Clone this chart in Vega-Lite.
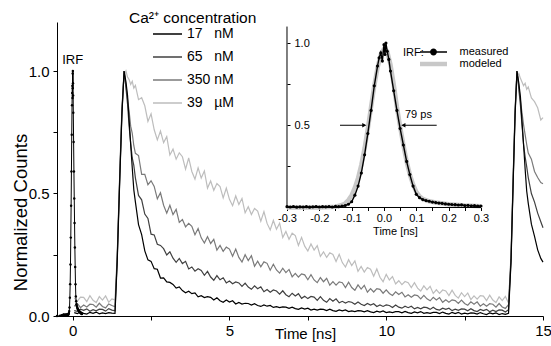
{
 "$schema": "https://vega.github.io/schema/vega-lite/v6.json",
 "width": 486, "height": 294,
 "autosize": {"type": "none"},
 "padding": {"left": 57, "top": 22, "right": 8, "bottom": 30},
 "background": "white",
 "title": {"text": "Ca²⁺ concentration", "anchor": "start", "frame": "group", "orient": "top", "offset": 0, "dx": 72, "dy": 8, "fontSize": 15.5, "fontWeight": "normal", "color": "black", "font": "Liberation Sans"},
 "config": {"font": "Liberation Sans", "view": {"stroke": null},
   "axis": {"grid": false, "domainColor": "black", "tickColor": "black", "labelColor": "black", "titleColor": "black", "titleFontWeight": "normal", "labelFlush": false, "labelOverlap": false, "labelBound": false},
   "legend": {"titleFontWeight": "normal", "titleColor": "black", "labelColor": "black", "padding": 0}},
 "datasets": {
  "decay": [
   {"t":0.05,"nM17":0.014,"nM65":0.022,"nM350":0.040,"uM39":0.073},
   {"t":0.15,"nM17":0.010,"nM65":0.019,"nM350":0.051,"uM39":0.061},
   {"t":0.25,"nM17":0.016,"nM65":0.028,"nM350":0.034,"uM39":0.077},
   {"t":0.35,"nM17":0.011,"nM65":0.023,"nM350":0.045,"uM39":0.076},
   {"t":0.45,"nM17":0.008,"nM65":0.029,"nM350":0.037,"uM39":0.059},
   {"t":0.55,"nM17":0.015,"nM65":0.019,"nM350":0.048,"uM39":0.083},
   {"t":0.65,"nM17":0.011,"nM65":0.026,"nM350":0.047,"uM39":0.064},
   {"t":0.75,"nM17":0.016,"nM65":0.021,"nM350":0.036,"uM39":0.055},
   {"t":0.85,"nM17":0.009,"nM65":0.028,"nM350":0.052,"uM39":0.079},
   {"t":0.95,"nM17":0.013,"nM65":0.027,"nM350":0.039,"uM39":0.065},
   {"t":1.05,"nM17":0.010,"nM65":0.020,"nM350":0.033,"uM39":0.082},
   {"t":1.15,"nM17":0.014,"nM65":0.030,"nM350":0.049,"uM39":0.056},
   {"t":1.25,"nM17":0.012,"nM65":0.024,"nM350":0.043,"uM39":0.070},
   {"t":1.35,"nM17":0.011,"nM65":0.021,"nM350":0.038,"uM39":0.066},
   {"t":1.42,"nM17":0.22,"nM65":0.23,"nM350":0.24,"uM39":0.25},
   {"t":1.50,"nM17":0.55,"nM65":0.56,"nM350":0.57,"uM39":0.58},
   {"t":1.57,"nM17":0.82,"nM65":0.83,"nM350":0.84,"uM39":0.85},
   {"t":1.64,"nM17":1.0,"nM65":1.0,"nM350":1.0,"uM39":0.98},
   {"t":1.70,"nM17":0.955,"nM65":0.93,"nM350":0.94,"uM39":1.0},
   {"t":1.75,"nM17":0.90,"nM65":0.865,"nM350":0.885,"uM39":0.975},
   {"t":1.80,"nM17":0.80,"nM65":0.775,"nM350":0.835,"uM39":0.965},
   {"t":1.85,"nM17":0.70,"nM65":0.705,"nM350":0.775,"uM39":0.945},
   {"t":1.90,"nM17":0.605,"nM65":0.645,"nM350":0.745,"uM39":0.958},
   {"t":1.95,"nM17":0.515,"nM65":0.615,"nM350":0.695,"uM39":0.93},
   {"t":2.0,"nM17":0.466,"nM65":0.564,"nM350":0.664,"uM39":0.941},
   {"t":2.1,"nM17":0.373,"nM65":0.492,"nM350":0.655,"uM39":0.883},
   {"t":2.2,"nM17":0.332,"nM65":0.474,"nM350":0.578,"uM39":0.891},
   {"t":2.3,"nM17":0.266,"nM65":0.416,"nM350":0.578,"uM39":0.858},
   {"t":2.4,"nM17":0.229,"nM65":0.398,"nM350":0.536,"uM39":0.794},
   {"t":2.5,"nM17":0.223,"nM65":0.334,"nM350":0.552,"uM39":0.825},
   {"t":2.6,"nM17":0.193,"nM65":0.331,"nM350":0.529,"uM39":0.760},
   {"t":2.7,"nM17":0.191,"nM65":0.293,"nM350":0.478,"uM39":0.719},
   {"t":2.8,"nM17":0.155,"nM65":0.288,"nM350":0.503,"uM39":0.755},
   {"t":2.9,"nM17":0.156,"nM65":0.275,"nM350":0.452,"uM39":0.708},
   {"t":3.0,"nM17":0.139,"nM65":0.249,"nM350":0.420,"uM39":0.732},
   {"t":3.1,"nM17":0.137,"nM65":0.262,"nM350":0.452,"uM39":0.657},
   {"t":3.2,"nM17":0.129,"nM65":0.236,"nM350":0.414,"uM39":0.681},
   {"t":3.3,"nM17":0.114,"nM65":0.219,"nM350":0.435,"uM39":0.640},
   {"t":3.4,"nM17":0.119,"nM65":0.235,"nM350":0.382,"uM39":0.666},
   {"t":3.5,"nM17":0.104,"nM65":0.214,"nM350":0.394,"uM39":0.650},
   {"t":3.6,"nM17":0.095,"nM65":0.223,"nM350":0.364,"uM39":0.599},
   {"t":3.7,"nM17":0.101,"nM65":0.192,"nM350":0.378,"uM39":0.645},
   {"t":3.8,"nM17":0.091,"nM65":0.200,"nM350":0.366,"uM39":0.590},
   {"t":3.9,"nM17":0.094,"nM65":0.183,"nM350":0.332,"uM39":0.559},
   {"t":4.0,"nM17":0.078,"nM65":0.193,"nM350":0.357,"uM39":0.605},
   {"t":4.1,"nM17":0.083,"nM65":0.186,"nM350":0.319,"uM39":0.563},
   {"t":4.2,"nM17":0.075,"nM65":0.166,"nM350":0.298,"uM39":0.592},
   {"t":4.3,"nM17":0.079,"nM65":0.182,"nM350":0.324,"uM39":0.522},
   {"t":4.4,"nM17":0.076,"nM65":0.159,"nM350":0.296,"uM39":0.551},
   {"t":4.5,"nM17":0.065,"nM65":0.146,"nM350":0.313,"uM39":0.513},
   {"t":4.6,"nM17":0.074,"nM65":0.165,"nM350":0.269,"uM39":0.541},
   {"t":4.7,"nM17":0.062,"nM65":0.148,"nM350":0.288,"uM39":0.528},
   {"t":4.8,"nM17":0.056,"nM65":0.156,"nM350":0.264,"uM39":0.482},
   {"t":4.9,"nM17":0.065,"nM65":0.135,"nM350":0.281,"uM39":0.522},
   {"t":5.0,"nM17":0.057,"nM65":0.143,"nM350":0.273,"uM39":0.476},
   {"t":5.1,"nM17":0.062,"nM65":0.132,"nM350":0.244,"uM39":0.450},
   {"t":5.2,"nM17":0.049,"nM65":0.139,"nM350":0.273,"uM39":0.490},
   {"t":5.3,"nM17":0.055,"nM65":0.135,"nM350":0.239,"uM39":0.455},
   {"t":5.4,"nM17":0.049,"nM65":0.121,"nM350":0.220,"uM39":0.480},
   {"t":5.5,"nM17":0.052,"nM65":0.134,"nM350":0.250,"uM39":0.421},
   {"t":5.6,"nM17":0.051,"nM65":0.118,"nM350":0.226,"uM39":0.446},
   {"t":5.7,"nM17":0.045,"nM65":0.109,"nM350":0.246,"uM39":0.414},
   {"t":5.8,"nM17":0.050,"nM65":0.123,"nM350":0.203,"uM39":0.439},
   {"t":5.9,"nM17":0.043,"nM65":0.111,"nM350":0.224,"uM39":0.428},
   {"t":6.0,"nM17":0.039,"nM65":0.119,"nM350":0.201,"uM39":0.387},
   {"t":6.1,"nM17":0.045,"nM65":0.099,"nM350":0.221,"uM39":0.426},
   {"t":6.2,"nM17":0.040,"nM65":0.108,"nM350":0.215,"uM39":0.378},
   {"t":6.3,"nM17":0.043,"nM65":0.097,"nM350":0.187,"uM39":0.351},
   {"t":6.4,"nM17":0.035,"nM65":0.106,"nM350":0.211,"uM39":0.390},
   {"t":6.5,"nM17":0.038,"nM65":0.102,"nM350":0.188,"uM39":0.354},
   {"t":6.6,"nM17":0.034,"nM65":0.089,"nM350":0.175,"uM39":0.379},
   {"t":6.7,"nM17":0.037,"nM65":0.103,"nM350":0.195,"uM39":0.320},
   {"t":6.8,"nM17":0.036,"nM65":0.087,"nM350":0.177,"uM39":0.345},
   {"t":6.9,"nM17":0.031,"nM65":0.079,"nM350":0.190,"uM39":0.313},
   {"t":7.0,"nM17":0.036,"nM65":0.093,"nM350":0.160,"uM39":0.338},
   {"t":7.1,"nM17":0.030,"nM65":0.082,"nM350":0.174,"uM39":0.328},
   {"t":7.2,"nM17":0.027,"nM65":0.091,"nM350":0.159,"uM39":0.288},
   {"t":7.3,"nM17":0.033,"nM65":0.072,"nM350":0.172,"uM39":0.321},
   {"t":7.4,"nM17":0.028,"nM65":0.081,"nM350":0.168,"uM39":0.285},
   {"t":7.5,"nM17":0.032,"nM65":0.071,"nM350":0.148,"uM39":0.265},
   {"t":7.6,"nM17":0.024,"nM65":0.080,"nM350":0.169,"uM39":0.294},
   {"t":7.7,"nM17":0.028,"nM65":0.077,"nM350":0.147,"uM39":0.269},
   {"t":7.8,"nM17":0.024,"nM65":0.064,"nM350":0.136,"uM39":0.287},
   {"t":7.9,"nM17":0.028,"nM65":0.079,"nM350":0.157,"uM39":0.243},
   {"t":8.0,"nM17":0.027,"nM65":0.064,"nM350":0.140,"uM39":0.262},
   {"t":8.1,"nM17":0.022,"nM65":0.056,"nM350":0.154,"uM39":0.239},
   {"t":8.2,"nM17":0.028,"nM65":0.071,"nM350":0.126,"uM39":0.258},
   {"t":8.3,"nM17":0.022,"nM65":0.060,"nM350":0.140,"uM39":0.251},
   {"t":8.4,"nM17":0.019,"nM65":0.070,"nM350":0.126,"uM39":0.222},
   {"t":8.5,"nM17":0.025,"nM65":0.054,"nM350":0.139,"uM39":0.252},
   {"t":8.6,"nM17":0.021,"nM65":0.060,"nM350":0.136,"uM39":0.218},
   {"t":8.7,"nM17":0.025,"nM65":0.053,"nM350":0.116,"uM39":0.200},
   {"t":8.8,"nM17":0.018,"nM65":0.059,"nM350":0.138,"uM39":0.230},
   {"t":8.9,"nM17":0.021,"nM65":0.056,"nM350":0.116,"uM39":0.206},
   {"t":9.0,"nM17":0.018,"nM65":0.048,"nM350":0.105,"uM39":0.225},
   {"t":9.1,"nM17":0.022,"nM65":0.057,"nM350":0.127,"uM39":0.182},
   {"t":9.2,"nM17":0.021,"nM65":0.048,"nM350":0.110,"uM39":0.202},
   {"t":9.3,"nM17":0.017,"nM65":0.043,"nM350":0.125,"uM39":0.179},
   {"t":9.4,"nM17":0.022,"nM65":0.051,"nM350":0.097,"uM39":0.198},
   {"t":9.5,"nM17":0.017,"nM65":0.045,"nM350":0.112,"uM39":0.191},
   {"t":9.6,"nM17":0.014,"nM65":0.050,"nM350":0.098,"uM39":0.162},
   {"t":9.7,"nM17":0.020,"nM65":0.039,"nM350":0.112,"uM39":0.192},
   {"t":9.8,"nM17":0.016,"nM65":0.045,"nM350":0.109,"uM39":0.158},
   {"t":9.9,"nM17":0.021,"nM65":0.039,"nM350":0.093,"uM39":0.140},
   {"t":10.0,"nM17":0.014,"nM65":0.045,"nM350":0.107,"uM39":0.170},
   {"t":10.1,"nM17":0.017,"nM65":0.043,"nM350":0.092,"uM39":0.147},
   {"t":10.2,"nM17":0.014,"nM65":0.035,"nM350":0.084,"uM39":0.161},
   {"t":10.3,"nM17":0.018,"nM65":0.045,"nM350":0.099,"uM39":0.131},
   {"t":10.4,"nM17":0.018,"nM65":0.036,"nM350":0.088,"uM39":0.144},
   {"t":10.5,"nM17":0.013,"nM65":0.032,"nM350":0.097,"uM39":0.128},
   {"t":10.6,"nM17":0.019,"nM65":0.040,"nM350":0.078,"uM39":0.141},
   {"t":10.7,"nM17":0.014,"nM65":0.034,"nM350":0.087,"uM39":0.136},
   {"t":10.8,"nM17":0.011,"nM65":0.040,"nM350":0.077,"uM39":0.116},
   {"t":10.9,"nM17":0.017,"nM65":0.029,"nM350":0.086,"uM39":0.136},
   {"t":11.0,"nM17":0.013,"nM65":0.035,"nM350":0.083,"uM39":0.114},
   {"t":11.1,"nM17":0.018,"nM65":0.029,"nM350":0.070,"uM39":0.102},
   {"t":11.2,"nM17":0.011,"nM65":0.036,"nM350":0.084,"uM39":0.123},
   {"t":11.3,"nM17":0.014,"nM65":0.034,"nM350":0.070,"uM39":0.107},
   {"t":11.4,"nM17":0.011,"nM65":0.027,"nM350":0.062,"uM39":0.121},
   {"t":11.5,"nM17":0.015,"nM65":0.036,"nM350":0.076,"uM39":0.092},
   {"t":11.6,"nM17":0.015,"nM65":0.027,"nM350":0.065,"uM39":0.107},
   {"t":11.7,"nM17":0.010,"nM65":0.024,"nM350":0.075,"uM39":0.092},
   {"t":11.8,"nM17":0.016,"nM65":0.032,"nM350":0.056,"uM39":0.106},
   {"t":11.9,"nM17":0.011,"nM65":0.027,"nM350":0.066,"uM39":0.102},
   {"t":12.0,"nM17":0.008,"nM65":0.032,"nM350":0.056,"uM39":0.083},
   {"t":12.1,"nM17":0.015,"nM65":0.022,"nM350":0.066,"uM39":0.105},
   {"t":12.2,"nM17":0.010,"nM65":0.028,"nM350":0.063,"uM39":0.084},
   {"t":12.3,"nM17":0.015,"nM65":0.023,"nM350":0.051,"uM39":0.073},
   {"t":12.4,"nM17":0.008,"nM65":0.029,"nM350":0.065,"uM39":0.095},
   {"t":12.5,"nM17":0.012,"nM65":0.028,"nM350":0.051,"uM39":0.079},
   {"t":12.6,"nM17":0.009,"nM65":0.021,"nM350":0.044,"uM39":0.094},
   {"t":12.7,"nM17":0.013,"nM65":0.030,"nM350":0.058,"uM39":0.067},
   {"t":12.8,"nM17":0.012,"nM65":0.022,"nM350":0.048,"uM39":0.082},
   {"t":12.9,"nM17":0.008,"nM65":0.018,"nM350":0.058,"uM39":0.069},
   {"t":13.0,"nM17":0.014,"nM65":0.027,"nM350":0.040,"uM39":0.083},
   {"t":13.1,"nM17":0.009,"nM65":0.022,"nM350":0.050,"uM39":0.081},
   {"t":13.2,"nM17":0.006,"nM65":0.027,"nM350":0.040,"uM39":0.063},
   {"t":13.3,"nM17":0.013,"nM65":0.017,"nM350":0.050,"uM39":0.085},
   {"t":13.4,"nM17":0.009,"nM65":0.024,"nM350":0.048,"uM39":0.065},
   {"t":13.5,"nM17":0.013,"nM65":0.018,"nM350":0.036,"uM39":0.055},
   {"t":13.6,"nM17":0.006,"nM65":0.025,"nM350":0.051,"uM39":0.078},
   {"t":13.7,"nM17":0.010,"nM65":0.024,"nM350":0.037,"uM39":0.063},
   {"t":13.8,"nM17":0.007,"nM65":0.016,"nM350":0.031,"uM39":0.080},
   {"t":13.9,"nM17":0.011,"nM65":0.026,"nM350":0.046,"uM39":0.053},
   {"t":13.98,"nM17":0.22,"nM65":0.23,"nM350":0.24,"uM39":0.25},
   {"t":14.05,"nM17":0.55,"nM65":0.56,"nM350":0.57,"uM39":0.58},
   {"t":14.11,"nM17":0.82,"nM65":0.83,"nM350":0.84,"uM39":0.85},
   {"t":14.17,"nM17":1.0,"nM65":1.0,"nM350":1.0,"uM39":0.98},
   {"t":14.23,"nM17":0.95,"nM65":0.925,"nM350":0.935,"uM39":0.99},
   {"t":14.28,"nM17":0.895,"nM65":0.86,"nM350":0.88,"uM39":0.97},
   {"t":14.33,"nM17":0.795,"nM65":0.78,"nM350":0.83,"uM39":0.955},
   {"t":14.38,"nM17":0.70,"nM65":0.70,"nM350":0.78,"uM39":0.94},
   {"t":14.43,"nM17":0.60,"nM65":0.65,"nM350":0.74,"uM39":0.95},
   {"t":14.48,"nM17":0.51,"nM65":0.61,"nM350":0.70,"uM39":0.925},
   {"t":14.53,"nM17":0.46,"nM65":0.565,"nM350":0.665,"uM39":0.935},
   {"t":14.63,"nM17":0.375,"nM65":0.50,"nM350":0.64,"uM39":0.89},
   {"t":14.73,"nM17":0.325,"nM65":0.465,"nM350":0.59,"uM39":0.875},
   {"t":14.83,"nM17":0.27,"nM65":0.42,"nM350":0.565,"uM39":0.85},
   {"t":14.93,"nM17":0.235,"nM65":0.385,"nM350":0.545,"uM39":0.80},
   {"t":15.0,"nM17":0.22,"nM65":0.36,"nM350":0.54,"uM39":0.81}
  ],
  "irf": [
   {"t":-0.5,"v":0},{"t":-0.4,"v":0.001},{"t":-0.35,"v":0.003},
   {"t":-0.30,"v":0.005},{"t":-0.29,"v":0.003},{"t":-0.28,"v":0.006},{"t":-0.27,"v":0.002},{"t":-0.26,"v":0.004},
   {"t":-0.25,"v":0.003},{"t":-0.24,"v":0.005},{"t":-0.23,"v":0.002},{"t":-0.22,"v":0.004},{"t":-0.21,"v":0.006},
   {"t":-0.20,"v":0.003},{"t":-0.19,"v":0.005},{"t":-0.18,"v":0.004},{"t":-0.17,"v":0.006},{"t":-0.16,"v":0.003},
   {"t":-0.15,"v":0.007},{"t":-0.14,"v":0.005},{"t":-0.13,"v":0.008},{"t":-0.12,"v":0.012},{"t":-0.11,"v":0.02},
   {"t":-0.10,"v":0.035},{"t":-0.09,"v":0.075},{"t":-0.08,"v":0.13},{"t":-0.07,"v":0.21},{"t":-0.06,"v":0.32},
   {"t":-0.05,"v":0.45},{"t":-0.04,"v":0.59},{"t":-0.03,"v":0.74},{"t":-0.02,"v":0.86},{"t":-0.015,"v":0.91},
   {"t":-0.01,"v":0.94},{"t":-0.005,"v":0.89},{"t":0.0,"v":0.99},{"t":0.003,"v":0.93},{"t":0.006,"v":1.0},
   {"t":0.01,"v":0.95},{"t":0.015,"v":0.90},{"t":0.02,"v":0.83},{"t":0.03,"v":0.71},{"t":0.04,"v":0.59},
   {"t":0.05,"v":0.48},{"t":0.06,"v":0.38},{"t":0.07,"v":0.28},{"t":0.08,"v":0.20},{"t":0.09,"v":0.13},
   {"t":0.10,"v":0.08},{"t":0.11,"v":0.06},{"t":0.12,"v":0.048},{"t":0.13,"v":0.042},{"t":0.14,"v":0.038},
   {"t":0.15,"v":0.033},{"t":0.16,"v":0.030},{"t":0.17,"v":0.027},{"t":0.18,"v":0.025},{"t":0.19,"v":0.022},
   {"t":0.20,"v":0.02},{"t":0.21,"v":0.018},{"t":0.22,"v":0.017},{"t":0.23,"v":0.015},{"t":0.24,"v":0.016},
   {"t":0.25,"v":0.012},{"t":0.26,"v":0.013},{"t":0.27,"v":0.010},{"t":0.28,"v":0.011},{"t":0.29,"v":0.008},
   {"t":0.30,"v":0.009}
  ],
  "model": [
   {"t":-0.30,"v":0},{"t":-0.20,"v":0},{"t":-0.15,"v":0.005},{"t":-0.13,"v":0.015},{"t":-0.12,"v":0.025},
   {"t":-0.11,"v":0.045},{"t":-0.10,"v":0.075},{"t":-0.09,"v":0.12},{"t":-0.08,"v":0.18},{"t":-0.07,"v":0.26},
   {"t":-0.06,"v":0.36},{"t":-0.05,"v":0.48},{"t":-0.04,"v":0.61},{"t":-0.03,"v":0.74},{"t":-0.02,"v":0.85},
   {"t":-0.01,"v":0.93},{"t":0.0,"v":0.965},{"t":0.01,"v":0.95},{"t":0.02,"v":0.87},{"t":0.03,"v":0.75},
   {"t":0.04,"v":0.61},{"t":0.05,"v":0.49},{"t":0.06,"v":0.38},{"t":0.07,"v":0.28},{"t":0.08,"v":0.20},
   {"t":0.09,"v":0.14},{"t":0.10,"v":0.095},{"t":0.11,"v":0.068},{"t":0.12,"v":0.052},{"t":0.14,"v":0.038},
   {"t":0.16,"v":0.03},{"t":0.20,"v":0.02},{"t":0.25,"v":0.012},{"t":0.30,"v":0.008}
  ]
 },
 "layer": [
  {
   "layer": [
    {
     "data": {"name": "decay"},
     "transform": [{"fold": ["uM39", "nM350", "nM65", "nM17"], "as": ["series", "v"]}],
     "mark": {"type": "line", "strokeWidth": 1.2},
     "encoding": {
      "x": {"field": "t", "type": "quantitative", "scale": {"domain": [-0.5, 15], "nice": false, "zero": false},
            "axis": {"orient": "bottom", "values": [0, 2.5, 5, 7.5, 10, 12.5, 15], "labelExpr": "datum.value % 5 == 0 ? format(datum.value, 'd') : ''", "tickSize": 4, "labelPadding": 3, "labelFontSize": 15, "title": "Time [ns]", "titleFontSize": 15, "titleX": 248, "titleY": 10, "titleBaseline": "top"}},
      "y": {"field": "v", "type": "quantitative", "scale": {"domain": [0, 1.2], "nice": false, "zero": false},
            "axis": {"orient": "left", "values": [0, 0.25, 0.5, 0.75, 1], "labelExpr": "(datum.value * 4) % 2 == 0 ? format(datum.value, '.1f') : ''", "tickSize": 4, "labelPadding": 4, "labelFontSize": 15, "title": "Normalized Counts", "titleFontSize": 18.5, "titleAngle": 270, "titleX": -37, "titleY": 190, "titleBaseline": "middle", "titleAlign": "center"}},
      "color": {"field": "series", "type": "nominal",
                "scale": {"domain": ["nM17", "nM65", "nM350", "uM39"], "range": ["#000000", "#404040", "#7a7a7a", "#bdbdbd"]},
                "legend": {"orient": "none", "legendX": 95, "legendY": -3.5, "title": null, "labelFontSize": 14, "labelLimit": 200, "symbolType": "stroke", "symbolSize": 841, "symbolStrokeWidth": 1.5, "labelOffset": 4, "rowPadding": -4.3,
                           "labelExpr": "datum.value == 'nM17' ? '17\u00a0\u00a0\u00a0nM' : datum.value == 'nM65' ? '65\u00a0\u00a0\u00a0nM' : datum.value == 'nM350' ? '350\u00a0nM' : '39\u00a0\u00a0\u00a0µM'"}}
     }
    },
    {
     "data": {"name": "irf"},
     "mark": {"type": "line", "color": "black", "strokeWidth": 1},
     "encoding": {"x": {"field": "t", "type": "quantitative"}, "y": {"field": "v", "type": "quantitative"}}
    },
    {
     "data": {"name": "irf"},
     "mark": {"type": "point", "filled": true, "color": "black", "size": 6, "opacity": 1},
     "encoding": {"x": {"field": "t", "type": "quantitative"}, "y": {"field": "v", "type": "quantitative"}}
    },
    {
     "data": {"values": [{"t": 0, "v": 1.045, "label": "IRF"}]},
     "mark": {"type": "text", "fontSize": 13, "color": "black", "align": "center", "baseline": "middle"},
     "encoding": {"x": {"field": "t", "type": "quantitative"}, "y": {"field": "v", "type": "quantitative"}, "text": {"field": "label"}}
    }
   ]
  },
  {
   "layer": [
    {
     "data": {"name": "model"},
     "mark": {"type": "line", "strokeWidth": 4.5},
     "encoding": {
      "x": {"field": "t", "type": "quantitative", "scale": {"domain": [-1.0113, 0.4918], "nice": false, "zero": false},
            "axis": {"orient": "bottom", "offset": -108.5, "domain": false, "values": [-0.3, -0.25, -0.2, -0.15, -0.1, -0.05, 0, 0.05, 0.1, 0.15, 0.2, 0.25, 0.3], "labelExpr": "abs(round(datum.value * 10) - datum.value * 10) < 0.01 ? (datum.value < -0.001 ? '-' : '') + format(abs(datum.value), '.1f') : ''", "tickSize": 3, "labelPadding": 2, "labelFontSize": 11, "title": "Time [ns]", "titleFontSize": 11, "titleX": 338, "titleY": 18, "titleBaseline": "top"}},
      "y": {"field": "v", "type": "quantitative", "scale": {"domain": [-0.6596, 1.1277], "nice": false, "zero": false},
            "axis": {"orient": "right", "offset": -256, "domain": false, "values": [0, 0.25, 0.5, 0.75, 1], "labelExpr": "(datum.value * 4) % 2 == 0 && datum.value > 0 ? format(datum.value, '.1f') : ''", "tickSize": 3, "labelPadding": 4, "labelFontSize": 11, "title": null}},
      "color": {"datum": "modeled", "type": "nominal",
                "scale": {"domain": ["measured", "modeled"], "range": ["black", "#c8c8c8"]},
                "legend": {"orient": "none", "legendX": 346, "legendY": 24.5, "title": "IRF:", "titleOrient": "left", "titleAnchor": "start", "titleBaseline": "top", "titleFontSize": 11, "titlePadding": 4, "labelFontSize": 11, "symbolType": "M-2.7,0H2.7", "symbolSize": 100, "symbolOffset": 0, "labelOffset": 20.5, "rowPadding": -3,
                           "encode": {"symbols": {"update": {
                             "shape": {"signal": "datum.value === 'measured' ? 'M-2.7,0H2.7M-0.55,0A0.55,0.55,0,1,1,0.55,0A0.55,0.55,0,1,1,-0.55,0Z' : 'M-2.7,0H2.7'"},
                             "fill": {"signal": "datum.value === 'measured' ? 'black' : 'transparent'"},
                             "strokeWidth": {"signal": "datum.value === 'measured' ? 1.3 : 4.5"}}}}}}
     }
    },
    {
     "data": {"name": "irf"},
     "transform": [{"filter": "datum.t >= -0.3"}],
     "mark": {"type": "line", "strokeWidth": 1.4},
     "encoding": {"x": {"field": "t", "type": "quantitative"}, "y": {"field": "v", "type": "quantitative"}, "color": {"datum": "measured", "type": "nominal"}}
    },
    {
     "data": {"name": "irf"},
     "transform": [{"filter": "datum.t >= -0.3"}],
     "mark": {"type": "point", "filled": true, "color": "black", "size": 10, "opacity": 1},
     "encoding": {"x": {"field": "t", "type": "quantitative"}, "y": {"field": "v", "type": "quantitative"}}
    },
    {
     "data": {"values": [{"x": -0.3, "y": 0, "x2": -0.3, "y2": 1.1}, {"x": -0.3, "y": 0, "x2": 0.3, "y2": 0}]},
     "mark": {"type": "rule", "color": "black", "strokeWidth": 1},
     "encoding": {"x": {"field": "x", "type": "quantitative"}, "y": {"field": "y", "type": "quantitative"}, "x2": {"field": "x2"}, "y2": {"field": "y2"}}
    },
    {
     "data": {"values": [{"x": -0.136, "x2": -0.058, "y": 0.5}, {"x": 0.057, "x2": 0.163, "y": 0.5}]},
     "mark": {"type": "rule", "color": "black", "strokeWidth": 1},
     "encoding": {"x": {"field": "x", "type": "quantitative"}, "x2": {"field": "x2"}, "y": {"field": "y", "type": "quantitative"}}
    },
    {
     "data": {"values": [{"x": -0.061, "y": 0.5}]},
     "mark": {"type": "point", "shape": "triangle-right", "filled": true, "color": "black", "size": 22, "opacity": 1},
     "encoding": {"x": {"field": "x", "type": "quantitative"}, "y": {"field": "y", "type": "quantitative"}}
    },
    {
     "data": {"values": [{"x": 0.060, "y": 0.5}]},
     "mark": {"type": "point", "shape": "triangle-left", "filled": true, "color": "black", "size": 22, "opacity": 1},
     "encoding": {"x": {"field": "x", "type": "quantitative"}, "y": {"field": "y", "type": "quantitative"}}
    },
    {
     "data": {"values": [{"x": 0.065, "y": 0.562, "label": "79 ps"}]},
     "mark": {"type": "text", "align": "left", "baseline": "middle", "fontSize": 11, "color": "black"},
     "encoding": {"x": {"field": "x", "type": "quantitative"}, "y": {"field": "y", "type": "quantitative"}, "text": {"field": "label"}}
    }
   ]
  }
 ],
 "resolve": {"scale": {"x": "independent", "y": "independent", "color": "independent"}, "legend": {"color": "independent"}}
}
